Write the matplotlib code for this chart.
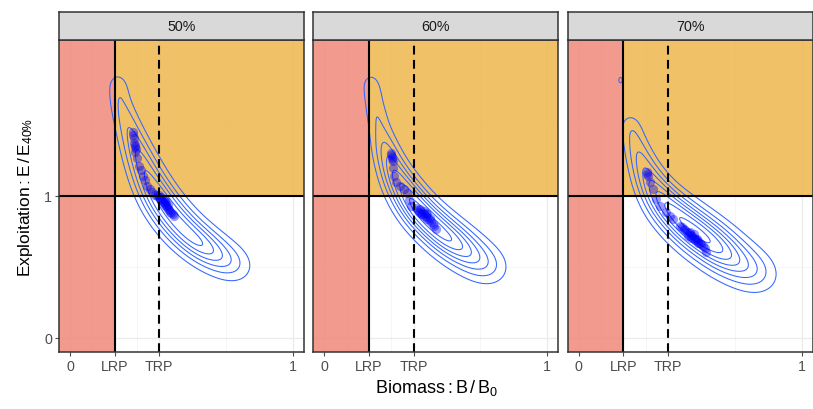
import numpy as np
import matplotlib
matplotlib.use("Agg")
import matplotlib.pyplot as plt

plt.rcParams["font.family"] = ["Liberation Sans", "DejaVu Sans"]
plt.rcParams["mathtext.fontset"] = "custom"
plt.rcParams["mathtext.rm"] = "Liberation Sans"
plt.rcParams["mathtext.it"] = "Liberation Sans:italic"

# facet labels
panels = ["50%", "60%", "70%"]

# reference points
lrp = 0.2
trp = 0.4
x_ticks = [0, lrp, trp, 1]
x_labels = ["0", "LRP", "TRP", "1"]
y_ticks = [0, 1]

# medians (points)
pts_x_50 = [0.280, 0.282, 0.285, 0.287, 0.290, 0.292, 0.295, 0.290, 0.300, 0.309, 0.317,
            0.325, 0.335, 0.347, 0.358, 0.369, 0.380, 0.392, 0.400, 0.405, 0.410, 0.415,
            0.420, 0.425, 0.430, 0.435, 0.440, 0.445, 0.450, 0.455, 0.460, 0.466, 0.410,
            0.420, 0.430, 0.440, 0.400, 0.425]
pts_y_50 = [1.448, 1.430, 1.410, 1.377, 1.360, 1.345, 1.330, 1.310, 1.270, 1.213, 1.180,
            1.143, 1.110, 1.072, 1.050, 1.026, 1.010, 1.000, 0.990, 0.980, 0.970, 0.960,
            0.950, 0.940, 0.930, 0.920, 0.910, 0.900, 0.890, 0.880, 0.870, 0.862, 0.995,
            0.975, 0.955, 0.935, 1.005, 0.965]

pts_x_60 = [0.297, 0.299, 0.302, 0.304, 0.307, 0.310, 0.314, 0.322, 0.340, 0.359, 0.370,
            0.380, 0.390, 0.411, 0.419, 0.425, 0.432, 0.440, 0.448, 0.455, 0.462, 0.470,
            0.478, 0.486, 0.494, 0.502, 0.430, 0.445, 0.460, 0.475, 0.440, 0.455]
pts_y_60 = [1.300, 1.290, 1.275, 1.260, 1.248, 1.200, 1.143, 1.096, 1.070, 1.049, 1.020,
            0.970, 0.932, 0.915, 0.900, 0.890, 0.880, 0.870, 0.860, 0.850, 0.840, 0.830,
            0.815, 0.800, 0.785, 0.768, 0.905, 0.895, 0.870, 0.845, 0.870, 0.880]

pts_x_70 = [0.304, 0.307, 0.310, 0.318, 0.333, 0.348, 0.363, 0.393, 0.410, 0.423, 0.453,
            0.462, 0.470, 0.478, 0.486, 0.494, 0.502, 0.510, 0.518, 0.526, 0.534, 0.542,
            0.550, 0.558, 0.566, 0.572, 0.490, 0.505, 0.520, 0.535, 0.500, 0.515, 0.530]
pts_y_70 = [1.167, 1.155, 1.140, 1.096, 1.049, 0.979, 0.932, 0.885, 0.860, 0.838, 0.791,
            0.780, 0.770, 0.760, 0.748, 0.738, 0.728, 0.716, 0.705, 0.695, 0.684, 0.672,
            0.660, 0.648, 0.630, 0.604, 0.720, 0.705, 0.690, 0.672, 0.745, 0.730, 0.700]

# ridge of the simulated density: centre line, density along it, spread (px)
ridge_x_50 = [0.210, 0.225, 0.265, 0.305, 0.350, 0.400, 0.460, 0.525, 0.595, 0.665, 0.735, 0.790]
ridge_y_50 = [1.84, 1.66, 1.47, 1.30, 1.13, 0.98, 0.85, 0.74, 0.65, 0.575, 0.515, 0.470]
ridge_w_50 = [0.26, 0.30, 0.45, 0.62, 0.80, 0.97, 1.00, 1.00, 0.95, 0.66, 0.42, 0.24]
ridge_s_50 = [8.0, 8.5, 9.0, 10.0, 11.0, 11.5, 12.0, 12.0, 12.0, 12.5, 13.0, 13.0]

ridge_x_60 = [0.205, 0.225, 0.250, 0.280, 0.318, 0.365, 0.420, 0.490, 0.565, 0.635, 0.705, 0.790]
ridge_y_60 = [1.84, 1.64, 1.46, 1.30, 1.15, 1.02, 0.90, 0.79, 0.69, 0.61, 0.53, 0.46]
ridge_w_60 = [0.22, 0.24, 0.28, 0.48, 0.68, 0.88, 1.00, 1.00, 0.98, 0.74, 0.48, 0.26]
ridge_s_60 = [7.5, 8.0, 8.5, 9.0, 10.0, 11.0, 11.5, 12.0, 12.5, 13.0, 13.5, 13.5]

ridge_x_70 = [0.225, 0.245, 0.272, 0.305, 0.342, 0.388, 0.448, 0.515, 0.585, 0.650, 0.715, 0.790, 0.860]
ridge_y_70 = [1.55, 1.42, 1.28, 1.15, 1.04, 0.94, 0.85, 0.76, 0.68, 0.60, 0.53, 0.46, 0.41]
ridge_w_70 = [0.20, 0.25, 0.36, 0.50, 0.66, 0.82, 0.95, 1.00, 1.00, 0.82, 0.58, 0.38, 0.22]
ridge_s_70 = [8.0, 8.5, 9.0, 10.0, 11.0, 12.0, 13.0, 13.5, 14.0, 14.0, 14.5, 14.5, 14.5]

# a stray sample in the 70% panel
stray_x_70 = [0.187]
stray_y_70 = [1.817]
stray_w_70 = [0.135]

# contour spacing and count, as in the picture
level_step = [0.15, 0.13, 0.116]
n_levels = [6, 7, 8]

pts_x = [pts_x_50, pts_x_60, pts_x_70]
pts_y = [pts_y_50, pts_y_60, pts_y_70]
ridges = [
    (ridge_x_50, ridge_y_50, ridge_w_50, ridge_s_50, [], [], []),
    (ridge_x_60, ridge_y_60, ridge_w_60, ridge_s_60, [], [], []),
    (ridge_x_70, ridge_y_70, ridge_w_70, ridge_s_70, stray_x_70, stray_y_70, stray_w_70),
]

xlim = (-0.05, 1.05)
ylim = (-0.1, 2.1)
px_x, px_y = 223.0, 142.0  # pixels per data unit, to keep kernels round
nsub = 16


def density(rx, ry, rw, rs, sx, sy, sw, gx, gy):
    u, v = gx * px_x, gy * px_y
    d = np.zeros_like(gx)
    for i in range(len(rx) - 1):
        seg = np.hypot((rx[i + 1] - rx[i]) * px_x, (ry[i + 1] - ry[i]) * px_y)
        for t in np.linspace(0, 1, nsub, endpoint=False):
            cx = rx[i] + t * (rx[i + 1] - rx[i])
            cy = ry[i] + t * (ry[i + 1] - ry[i])
            w = rw[i] + t * (rw[i + 1] - rw[i])
            s = rs[i] + t * (rs[i + 1] - rs[i])
            amp = w * (seg / nsub) / (np.sqrt(2 * np.pi) * s)
            d += amp * np.exp(-((u - cx * px_x) ** 2 + (v - cy * px_y) ** 2) / (2 * s * s))
    for cx, cy, w in zip(sx, sy, sw):
        # small, slightly tall blob
        d += w * np.exp(-((u - cx * px_x) ** 2 / (2 * 3.0 ** 2) + (v - cy * px_y) ** 2 / (2 * 5.0 ** 2)))
    return d


gx, gy = np.meshgrid(np.linspace(*xlim, 400), np.linspace(*ylim, 500))

fig = plt.figure(figsize=(8.13, 4.10), dpi=100)
W, H = 813.0, 410.0
lefts = [59, 313.3, 567.7]
pw = 245
bottom_px, top_px, strip_top = 353, 41, 13

red = "#F1887A"
orange = "#EFB64C"

for k, lab in enumerate(panels):
    ax = fig.add_axes([lefts[k] / W, 1 - bottom_px / H, pw / W, (bottom_px - top_px) / H])
    ax.set_xlim(xlim)
    ax.set_ylim(ylim)

    # grid
    for gxv in [0, lrp, trp, 1]:
        ax.axvline(gxv, color="#EBEBEB", lw=0.9, zorder=0)
    for gxv in [0.1, 0.3, 0.7]:
        ax.axvline(gxv, color="#F2F2F2", lw=0.5, zorder=0)
    for gyv in [0, 1]:
        ax.axhline(gyv, color="#EBEBEB", lw=0.9, zorder=0)
    for gyv in [0.5, 1.5]:
        ax.axhline(gyv, color="#F2F2F2", lw=0.5, zorder=0)

    # zones
    ax.axvspan(xlim[0], lrp, color=red, alpha=0.85, lw=0, zorder=1)
    ax.fill_between([lrp, xlim[1]], 1, ylim[1], color=orange, alpha=0.85, lw=0, zorder=1)

    # density contours
    rx, ry, rw, rs, sx, sy, sw = ridges[k]
    d = density(rx, ry, rw, rs, sx, sy, sw, gx, gy)
    levels = level_step[k] * np.arange(1, n_levels[k] + 1)
    ax.contour(gx, gy, d, levels=levels, colors="#3366FF", linewidths=0.75, zorder=3)

    ax.scatter(pts_x[k], pts_y[k], s=44, color="#0000FF", alpha=0.4, lw=0, zorder=4)

    # reference lines
    ax.axvline(lrp, color="black", lw=1.5, zorder=5)
    ax.axhline(1, color="black", lw=1.5, zorder=5)
    ax.axvline(trp, color="black", lw=1.5, ls=(0, (4.2, 2.6)), zorder=5)

    ax.set_xticks(x_ticks)
    ax.set_xticklabels(x_labels)
    ax.tick_params(axis="x", colors="#4D4D4D", labelsize=10.3, length=3, width=0.8, pad=2)
    if k == 0:
        ax.set_yticks(y_ticks)
        ax.tick_params(axis="y", colors="#4D4D4D", labelsize=10.3, length=3, width=0.8, pad=2)
    else:
        ax.set_yticks([])
    for sp in ax.spines.values():
        sp.set_color("#333333")
        sp.set_linewidth(1.1)
        sp.set_zorder(6)

    # facet strip
    sax = fig.add_axes([lefts[k] / W, 1 - top_px / H, pw / W, (top_px - strip_top) / H])
    sax.set_facecolor("#D9D9D9")
    sax.set_xticks([])
    sax.set_yticks([])
    for sp in sax.spines.values():
        sp.set_color("#333333")
        sp.set_linewidth(1.1)
    sax.text(0.5, 0.5, lab, ha="center", va="center", fontsize=10.3, color="#1A1A1A",
             transform=sax.transAxes)

fig.text(436 / W, 1 - 388 / H, r"$\mathrm{Biomass:B\,/\,B_0}$", ha="center", va="center",
         fontsize=13)
fig.text(26 / W, 1 - 197 / H, r"$\mathrm{Exploitation:E\,/\,E_{40\%}}$", ha="center",
         va="center", rotation=90, fontsize=12.5)

fig.savefig("out.png", dpi=100)
